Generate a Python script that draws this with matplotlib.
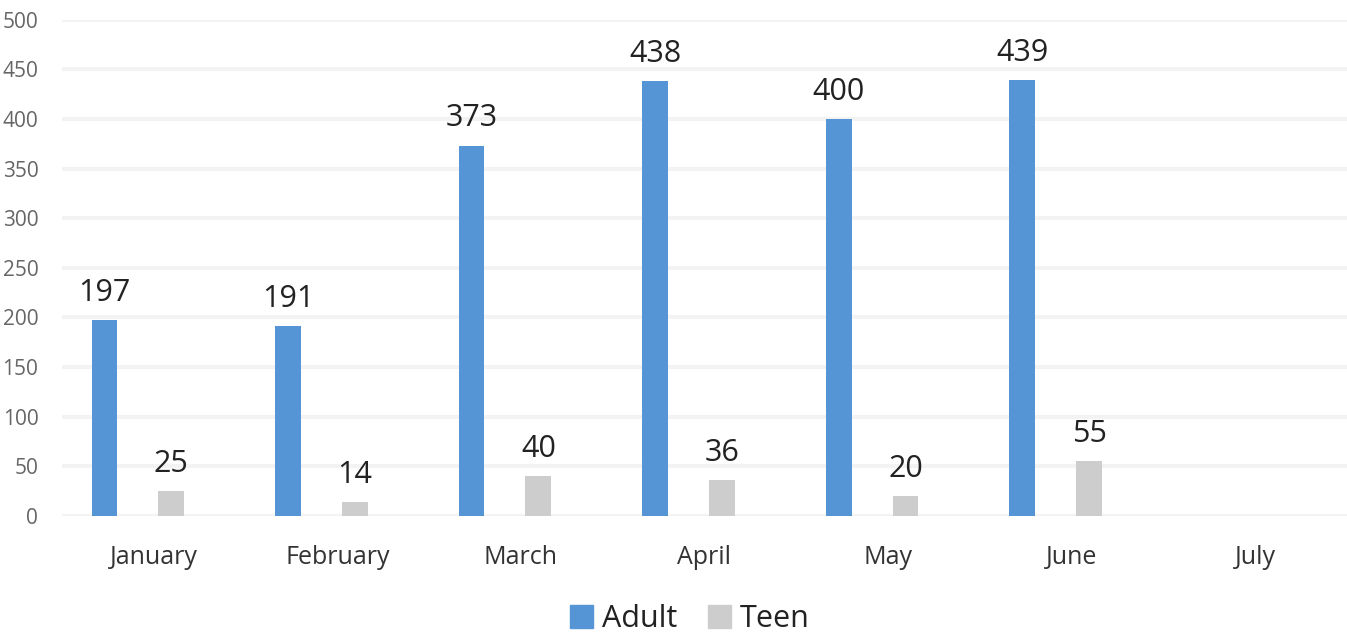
import numpy as np
import matplotlib.pyplot as plt
from matplotlib.patches import Patch

plt.rcParams['font.family'] = ['Open Sans', 'DejaVu Sans']

# monthly counts ==============
months = ['January', 'February', 'March', 'April', 'May', 'June', 'July']
adult = [197, 191, 373, 438, 400, 439]
teen = [25, 14, 40, 36, 20, 55]

blue = '#5595D6'
grey = '#CDCDCD'

fig = plt.figure(figsize=(13.47, 6.37), dpi=100)
ax = fig.add_axes([0.046, 0.19, 0.954, 0.779])

x = np.arange(len(adult))
w = 0.14
b1 = ax.bar(x - 0.269, adult, w, color=blue, zorder=2)
b2 = ax.bar(x + 0.095, teen, w, color=grey, zorder=2)

# value labels on top of the bars
for bars in (b1, b2):
    for r in bars:
        ax.annotate(str(int(r.get_height())),
                    (r.get_x() + r.get_width() / 2, r.get_height()),
                    xytext=(0, 14), textcoords='offset points',
                    ha='center', va='baseline', fontsize=22, color='#222222')

ax.set_xlim(-0.5, len(months) - 0.5)
ax.set_ylim(0, 500)
ax.set_yticks(np.arange(0, 501, 50))
ax.set_xticks(np.arange(len(months)))
ax.set_xticklabels(months)
ax.tick_params(axis='x', length=0, pad=21, labelsize=18, labelcolor='#333333')
ax.tick_params(axis='y', length=0, pad=17, labelsize=15, labelcolor='#666666')
ax.grid(axis='y', color='#F3F3F3', linewidth=3, zorder=0)
for s in ax.spines.values():
    s.set_visible(False)

handles = [Patch(color=blue, label='Adult'), Patch(color=grey, label='Teen')]
fig.legend(handles=handles, loc='center', bbox_to_anchor=(0.512, 0.028),
           ncol=2, frameon=False, fontsize=22, handlelength=0.75,
           handleheight=0.75, handletextpad=0.3, columnspacing=1.0,
           labelcolor='#222222')

fig.savefig('out.png', dpi=100)
